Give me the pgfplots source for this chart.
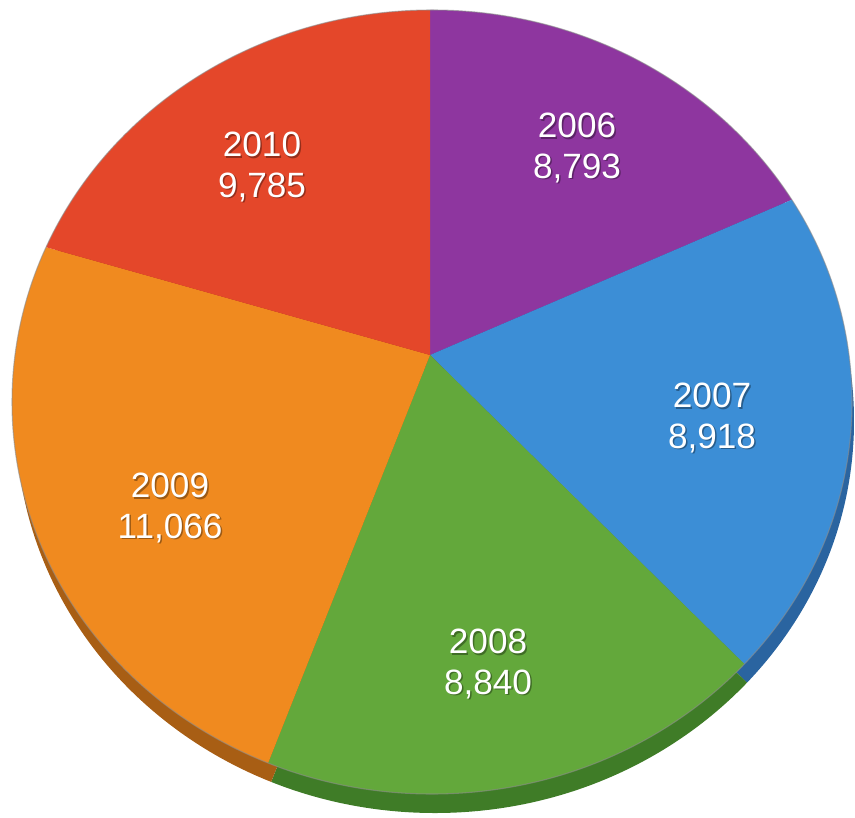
\documentclass[border=0pt]{standalone}
\usepackage{pgfplots}
\pgfplotsset{compat=1.18}
\usepackage{pgfplotstable}
\usepackage{fontspec}
\setmainfont{Liberation Sans}

\definecolor{pie0}{HTML}{8E369F}
\definecolor{pie1}{HTML}{3C8ED6}
\definecolor{pie2}{HTML}{63A83B}
\definecolor{pie3}{HTML}{F08A1F}
\definecolor{pie4}{HTML}{E4472A}
\definecolor{pie0d}{HTML}{5E2368}
\definecolor{pie1d}{HTML}{2A64A0}
\definecolor{pie2d}{HTML}{3F7C27}
\definecolor{pie3d}{HTML}{A85E14}
\definecolor{pie4d}{HTML}{A0301A}

% values, and where the label of each slice sits (pixels of the picture)
\pgfplotstableread{
year value lx ly
2006 8793 577 148
2007 8918 712 418
2008 8840 488 664
2009 11066 170 508
2010 9785 262 167
}\pietable

% total in thousands (pgfmath cannot hold 47402 itself)
\def\total{0}
\pgfplotsforeachungrouped \i in {0,...,4}{%
  \pgfplotstablegetelem{\i}{value}\of\pietable
  \pgfmathsetmacro\total{\total+\pgfplotsretval/1000}%
}

% #1 centre x, #2 centre y, #3 colour suffix
\newcommand\drawpie[3]{%
  \def\astart{90}%
  \pgfplotsforeachungrouped \i in {0,...,4}{%
    \pgfplotstablegetelem{\i}{value}\of\pietable
    \let\v=\pgfplotsretval
    \pgfmathsetmacro\aend{\astart-360*(\v/1000)/\total}%
    \pgfmathsetmacro\amid{(\astart+\aend)/2}%
    \pgfmathsetmacro\xa{#1+1200*cos(\astart)}%
    \pgfmathsetmacro\ya{#2-1200*sin(\astart)}%
    \pgfmathsetmacro\xm{#1+1200*cos(\amid)}%
    \pgfmathsetmacro\ym{#2-1200*sin(\amid)}%
    \pgfmathsetmacro\xb{#1+1200*cos(\aend)}%
    \pgfmathsetmacro\yb{#2-1200*sin(\aend)}%
    \edef\temp{\noexpand\fill[pie\i#3] (axis cs:#1,#2) -- (axis cs:\xa,\ya)
      -- (axis cs:\xm,\ym) -- (axis cs:\xb,\yb) -- cycle;}%
    \temp
    \let\astart=\aend
  }%
}

\begin{document}
\begin{tikzpicture}
\begin{axis}[
  scale only axis,
  width=8.55cm, height=8.17cm,
  xmin=0, xmax=855, ymin=0, ymax=817,
  y dir=reverse,
  hide axis,
  clip=false,
]
  \path (axis cs:0,0) rectangle (axis cs:855,817);
  % side of the disc
  \begin{scope}
    \clip (axis cs:435,421) ellipse [x radius=419, y radius=392];
    \drawpie{433}{374}{d}
  \end{scope}
  % top of the disc
  \begin{scope}
    \clip (axis cs:432,402) ellipse [x radius=420, y radius=392];
    \drawpie{430}{355}{}
  \end{scope}
  \draw[black!45, line width=0.3pt, opacity=0.6] (axis cs:432,402) ellipse [x radius=420, y radius=392];

  \pgfplotsforeachungrouped \i in {0,...,4}{%
    \pgfplotstablegetelem{\i}{year}\of\pietable \let\yr=\pgfplotsretval
    \pgfplotstablegetelem{\i}{lx}\of\pietable \let\lx=\pgfplotsretval
    \pgfplotstablegetelem{\i}{ly}\of\pietable \let\ly=\pgfplotsretval
    \pgfplotstablegetelem{\i}{value}\of\pietable
    \edef\vv{\pgfplotsretval}%
    \pgfmathprintnumberto[fixed, set thousands separator={,}, assume math mode=true]{\vv}\vtxt
    \edef\temp{\noexpand\node[align=center, text=black, opacity=0.35,
        font=\noexpand\fontsize{10}{11.5}\noexpand\selectfont]
        at (axis cs:\lx+1.5,\ly+1.5) {\yr\noexpand\\\vtxt};
      \noexpand\node[align=center, text=white,
        font=\noexpand\fontsize{10}{11.5}\noexpand\selectfont]
        at (axis cs:\lx,\ly) {\yr\noexpand\\\vtxt};}%
    \temp
  }
\end{axis}
\end{tikzpicture}
\end{document}
